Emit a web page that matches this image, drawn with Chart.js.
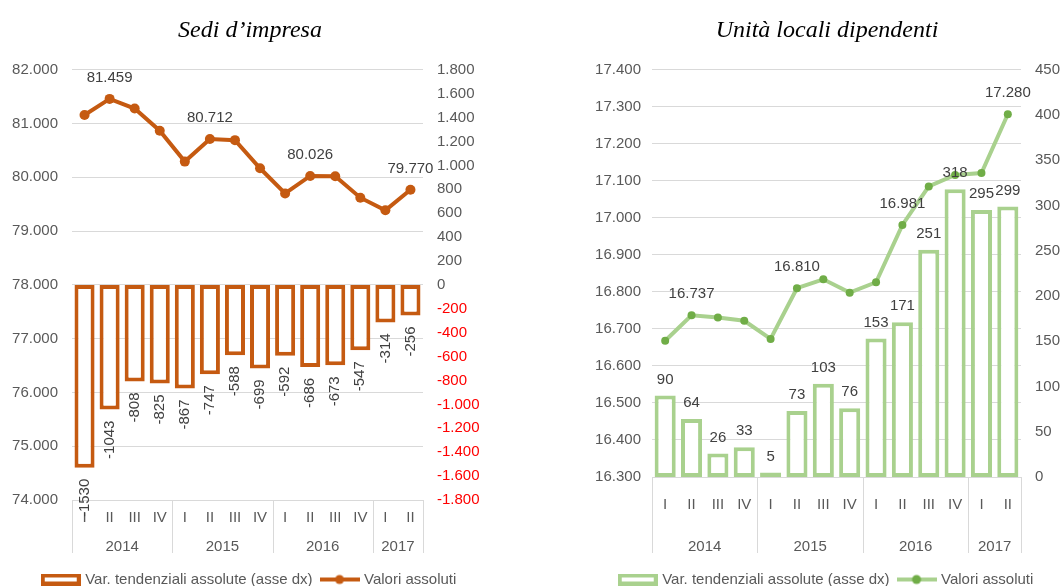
<!DOCTYPE html>
<html>
<head>
<meta charset="utf-8">
<script src="https://cdn.jsdelivr.net/npm/chart.js@4.4.1/dist/chart.umd.min.js"></script>
<style>
  html, body { margin: 0; padding: 0; background: #fff; overflow: hidden; }
  .box { position: absolute; top: 0; height: 597px; }
  #leftBox { left: 0; width: 500px; }
  #rightBox { left: 560px; width: 504px; }
</style>
</head>
<body>
<div class="box" id="leftBox"><canvas id="sediChart"></canvas></div>
<div class="box" id="rightBox"><canvas id="unitaChart"></canvas></div>
<script>
// categories
const quarters = ['I', 'II', 'III', 'IV', 'I', 'II', 'III', 'IV', 'I', 'II', 'III', 'IV', 'I', 'II'];
const years = ['2014', '2015', '2016', '2017'];
const yearCounts = [4, 4, 4, 2];

// Sedi d'impresa
const sediVar = [-1530, -1043, -808, -825, -867, -747, -588, -699, -592, -686, -673, -547, -314, -256];
const sediValori = [81160, 81459, 81280, 80868, 80293, 80712, 80692, 80169, 79701, 80026, 80019, 79622, 79387, 79770];

// Unità locali dipendenti
const unitaVar = [90, 64, 26, 33, 5, 73, 103, 76, 153, 171, 251, 318, 295, 299];
const unitaValori = [16668, 16737, 16731, 16722, 16673, 16810, 16834, 16798, 16826, 16981, 17085, 17116, 17121, 17280];

// which points of the line carry a label
const labelledPoints = [1, 5, 9, 13];

const orange = '#C55A11';
const greenLight = '#A9D18E';
const greenDark = '#70AD47';
const gridColor = '#d9d9d9';
const tickColor = '#595959';
const labelColor = '#404040';

Chart.defaults.font.family = '"Liberation Sans", Arial, sans-serif';
Chart.defaults.font.size = 15;
Chart.defaults.color = tickColor;

const itNum = v => String(v).replace(/\B(?=(\d{3})+(?!\d))/g, '.');

function makeIcon(type, stroke, dot) {
    const c = document.createElement('canvas');
    c.width = 40;
    c.height = 12;
    const g = c.getContext('2d');
    g.strokeStyle = stroke;
    g.lineWidth = 4;
    if (type === 'bar') {
        g.strokeRect(2, 2, 36, 8);
    } else {
        g.beginPath();
        g.moveTo(0, 6);
        g.lineTo(40, 6);
        g.stroke();
        g.fillStyle = dot;
        g.beginPath();
        g.arc(20, 6, 4.5, 0, Math.PI * 2);
        g.fill();
    }
    return c;
}

// year row + separators under the quarter labels
const yearAxis = {
    id: 'yearAxis',
    afterDraw(chart) {
        const x = chart.scales.x;
        const ctx = chart.ctx;
        const half = (x.getPixelForValue(1) - x.getPixelForValue(0)) / 2;
        const bottom = chart.chartArea.bottom;
        const sep = px => {
            ctx.beginPath();
            ctx.moveTo(px, bottom);
            ctx.lineTo(px, 553);
            ctx.stroke();
        };
        ctx.save();
        ctx.strokeStyle = gridColor;
        ctx.lineWidth = 1;
        ctx.fillStyle = tickColor;
        ctx.font = '15px "Liberation Sans", Arial, sans-serif';
        ctx.textAlign = 'center';
        ctx.textBaseline = 'middle';
        let start = 0;
        sep(Math.round(x.getPixelForValue(0) - half) + 0.5);
        years.forEach((yr, i) => {
            const end = start + yearCounts[i] - 1;
            const left = x.getPixelForValue(start) - half;
            const right = x.getPixelForValue(end) + half;
            ctx.fillText(yr, (left + right) / 2, 547);
            sep(Math.round(right) + 0.5);
            start = end + 1;
        });
        ctx.restore();
    }
};

// data labels
const valueLabels = {
    id: 'valueLabels',
    afterDatasetsDraw(chart, args, opts) {
        const ctx = chart.ctx;
        ctx.save();
        ctx.fillStyle = labelColor;
        ctx.font = '15px "Liberation Sans", Arial, sans-serif';
        chart.data.datasets.forEach((ds, i) => {
            const meta = chart.getDatasetMeta(i);
            meta.data.forEach((el, j) => {
                const v = ds.data[j];
                if (ds.type === 'bar') {
                    if (opts.barMode === 'rotated') {
                        ctx.save();
                        ctx.translate(el.x, el.y + 11);
                        ctx.rotate(-Math.PI / 2);
                        ctx.textAlign = 'right';
                        ctx.textBaseline = 'middle';
                        ctx.fillText(String(v), 0, 0);
                        ctx.restore();
                    } else {
                        ctx.textAlign = 'center';
                        ctx.textBaseline = 'middle';
                        ctx.fillText(String(v), el.x, el.y - 16);
                    }
                } else if (labelledPoints.includes(j)) {
                    ctx.textAlign = 'center';
                    ctx.textBaseline = 'middle';
                    ctx.fillText(itNum(v), el.x, el.y - 21);
                }
            });
        });
        ctx.restore();
    }
};

function buildChart(canvasId, cfg) {
    const icons = [makeIcon('bar', cfg.color), makeIcon('line', cfg.color, cfg.dotColor)];
    return new Chart(document.getElementById(canvasId), {
        data: {
            labels: quarters,
            datasets: [
                {
                    type: 'bar',
                    label: 'Var. tendenziali assolute (asse dx)',
                    data: cfg.bars,
                    yAxisID: 'yR',
                    backgroundColor: '#ffffff',
                    borderColor: cfg.color,
                    borderWidth: 4,
                    borderSkipped: false,
                    barPercentage: 0.8,
                    categoryPercentage: 1
                },
                {
                    type: 'line',
                    label: 'Valori assoluti',
                    data: cfg.line,
                    yAxisID: 'yL',
                    borderColor: cfg.color,
                    borderWidth: 4,
                    pointRadius: cfg.pointRadius,
                    pointBackgroundColor: cfg.dotColor,
                    pointBorderWidth: 0,
                    tension: 0
                }
            ]
        },
        options: {
            responsive: true,
            maintainAspectRatio: false,
            animation: false,
            layout: {
                padding: { left: cfg.padLeft, right: 0, top: 0, bottom: 0 }
            },
            plugins: {
                tooltip: { enabled: false },
                title: {
                    display: true,
                    text: cfg.title,
                    color: '#000000',
                    font: { family: '"Liberation Serif", "Times New Roman", serif', style: 'italic', weight: 'normal', size: 24 },
                    padding: { top: 16, bottom: 25 }
                },
                legend: {
                    position: 'bottom',
                    labels: {
                        usePointStyle: true,
                        pointStyleWidth: 34,
                        padding: 10,
                        color: tickColor,
                        font: { size: 15 },
                        generateLabels: chart => Chart.defaults.plugins.legend.labels.generateLabels(chart)
                            .map(it => Object.assign(it, { pointStyle: icons[it.datasetIndex] }))
                    }
                },
                valueLabels: { barMode: cfg.barMode }
            },
            scales: {
                x: {
                    grid: { display: false, drawTicks: false },
                    border: { display: false },
                    ticks: { color: tickColor, padding: cfg.xPad, autoSkip: false, maxRotation: 0 },
                    afterFit: s => { s.height = cfg.xHeight; }
                },
                yL: {
                    position: 'left',
                    min: cfg.leftMin,
                    max: cfg.leftMax,
                    grid: { color: gridColor, drawTicks: false },
                    border: { display: false },
                    ticks: { stepSize: cfg.leftStep, maxTicksLimit: 30, autoSkip: false, padding: cfg.leftPad, color: tickColor, callback: v => itNum(v) },
                    afterFit: s => { s.width = cfg.leftWidth; }
                },
                yR: {
                    position: 'right',
                    min: cfg.rightMin,
                    max: cfg.rightMax,
                    grid: { display: false, drawTicks: false },
                    border: { display: false },
                    ticks: {
                        stepSize: cfg.rightStep,
                        maxTicksLimit: 30,
                        autoSkip: false,
                        padding: 14,
                        color: c => (c.tick && c.tick.value < 0 ? '#FF0000' : tickColor),
                        callback: v => itNum(v)
                    },
                    afterFit: s => { s.width = cfg.rightWidth; }
                }
            }
        },
        plugins: [yearAxis, valueLabels]
    });
}

buildChart('sediChart', {
    title: 'Sedi d\u2019impresa',
    bars: sediVar,
    line: sediValori,
    color: orange,
    dotColor: orange,
    pointRadius: 5,
    barMode: 'rotated',
    padLeft: 0,
    leftMin: 74000, leftMax: 82000, leftStep: 1000,
    rightMin: -1800, rightMax: 1800, rightStep: 200,
    leftWidth: 72, rightWidth: 77, leftPad: 14,
    xHeight: 62, xPad: 9
});

buildChart('unitaChart', {
    title: 'Unit\u00e0 locali dipendenti',
    bars: unitaVar,
    line: unitaValori,
    color: greenLight,
    dotColor: greenDark,
    pointRadius: 4,
    barMode: 'above',
    padLeft: 30,
    leftMin: 16300, leftMax: 17400, leftStep: 100,
    rightMin: 0, rightMax: 450, rightStep: 50,
    leftWidth: 62, rightWidth: 43, leftPad: 11,
    xHeight: 85, xPad: 19
});
</script>
</body>
</html>
